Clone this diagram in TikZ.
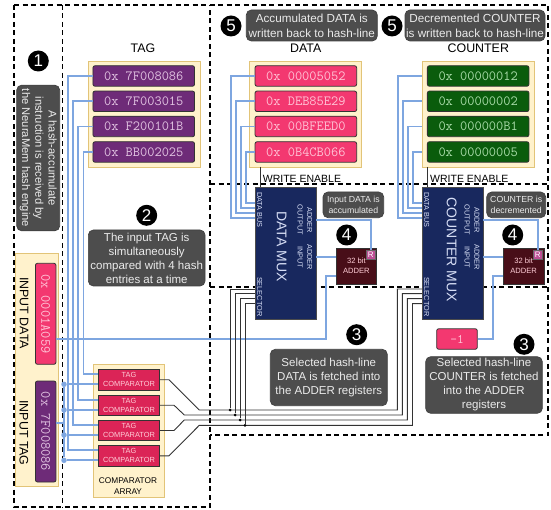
\documentclass[tikz,border=0pt]{standalone}
\usepackage{fontspec}
\setmainfont{Liberation Sans}
\usetikzlibrary{calc}
\usetikzlibrary{positioning}
\definecolor{panelfill}{RGB}{255,242,204}
\definecolor{paneledge}{RGB}{226,196,120}
\definecolor{tagfill}{RGB}{110,43,120}
\definecolor{tagtext}{RGB}{226,196,226}
\definecolor{datafill}{RGB}{243,56,112}
\definecolor{datatext}{RGB}{255,196,214}
\definecolor{countfill}{RGB}{10,92,12}
\definecolor{counttext}{RGB}{170,220,170}
\definecolor{cmpfill}{RGB}{219,36,87}
\definecolor{cmptext}{RGB}{255,205,215}
\definecolor{muxfill}{RGB}{24,40,94}
\definecolor{muxtext}{RGB}{215,222,245}
\definecolor{addfill}{RGB}{72,14,24}
\definecolor{regfill}{RGB}{190,80,150}
\definecolor{bubblefill}{RGB}{77,77,77}
\definecolor{busblue}{RGB}{126,166,224}

\begin{document}
\begin{tikzpicture}[x=1pt,y=-1pt,
zone/.style={black,line width=1.2pt,dash pattern=on 5pt off 3.5pt},
panel/.style={rectangle,draw=paneledge,fill=panelfill,line width=0.9pt,inner sep=0pt,minimum height=106,minimum width=112},
reg/.style={rectangle,rounded corners=2pt,draw=black!80,line width=0.8pt,inner sep=0pt,minimum width=101.6,minimum height=20.5,font=\ttfamily\fontsize{14}{15}\selectfont},
tagreg/.style={reg,fill=tagfill,text=tagtext},
datareg/.style={reg,fill=datafill,text=datatext},
countreg/.style={reg,fill=countfill,text=counttext},
cmp/.style={rectangle,draw=black!80,fill=cmpfill,text=cmptext,line width=0.9pt,inner sep=0pt,minimum width=61.4,minimum height=20.5,align=center,font=\fontsize{7.4}{9}\selectfont},
mux/.style={rectangle,draw=black!70,fill=muxfill,text=muxtext,line width=0.7pt,inner sep=0pt,minimum width=60.5,minimum height=131.7},
muxlabel/.style={text=muxtext,inner sep=0pt,rotate=-90,align=center,font=\fontsize{7.3}{9.6}\selectfont},
muxname/.style={text=muxtext,inner sep=0pt,rotate=-90,font=\fontsize{14}{16}\selectfont},
adder/.style={rectangle,draw=black!80,fill=addfill,text=cmptext,line width=0.8pt,inner sep=0pt,minimum width=40.7,minimum height=36,align=center,font=\fontsize{7.6}{9.6}\selectfont},
rbox/.style={rectangle,draw=black!60,fill=regfill,text=white,inner sep=0pt,minimum size=9,font=\fontsize{8}{9}\selectfont},
bubble/.style={rectangle,rounded corners=5pt,draw=black!75,fill=bubblefill,text=white!92!black,line width=0.7pt,inner sep=0pt,align=center,font=\fontsize{11.5}{14}\selectfont},
bubblebig/.style={bubble,font=\fontsize{11.7}{15}\selectfont},
bubblesmall/.style={bubble,font=\fontsize{8.75}{11}\selectfont},
step number/.style={circle,fill=black,text=white,inner sep=0pt,minimum size=21,font=\fontsize{17}{18}\selectfont},
title/.style={inner sep=0pt,font=\fontsize{12.4}{15}\selectfont},
busline/.style={busblue,line width=1.7pt},
selline/.style={black!80,line width=0.9pt},
busdot/.style={circle,fill=busblue,inner sep=0pt,minimum size=5.5},
seldot/.style={circle,fill=black,inner sep=0pt,minimum size=3}]

\useasboundingbox (0,0) rectangle (551,510);

\draw[zone] (14,5) -- (548,5) -- (548,435) -- (210,435);
\draw[zone] (14,5) -- (14,507) -- (210,507) -- (210,5);
\draw[zone] (62.5,5) -- (62.5,507);
\draw[zone] (210,184) -- (548,184);
\draw[zone] (210,287) -- (548,287);

\node[panel] (tagpanel) at (144,114) {};
\node[panel] (datapanel) at (305.7,114) {};
\node[panel] (countpanel) at (478.3,114) {};
\node[panel,minimum width=43.4,minimum height=232.6] (inputpanel) at (37,370) {};
\node[panel,minimum width=70.6,minimum height=133.3] (cmppanel) at (129,430.7) {};

\node[title] (taglabel) at (143,48) {TAG};
\node[title] (datalabel) at (305.7,48) {DATA};
\node[title] (countlabel) at (478.3,48) {COUNTER};
\node[title,rotate=-90] (inputdatalabel) at (24,313) {INPUT DATA};
\node[title,rotate=-90] (inputtaglabel) at (24,433) {INPUT TAG};
\node[inner sep=0pt,align=center,font=\fontsize{8.3}{10.7}\selectfont] (cmplabel) at (128,486) {COMPARATOR\\ARRAY};

\node[tagreg] (taga) at (143.75,76) {0x 7F008086};
\node[tagreg] (tagb) at (143.75,101.3) {0x 7F003015};
\node[tagreg] (tagc) at (143.75,126.5) {0x F200101B};
\node[tagreg] (tagd) at (143.75,152) {0x BB002025};

\node[datareg] (dataa) at (305.85,76) {0x 00005052};
\node[datareg] (datab) at (305.85,101.3) {0x DEB85E29};
\node[datareg] (datac) at (305.85,126.5) {0x 00BFEED0};
\node[datareg] (datad) at (305.85,152) {0x 0B4CB066};

\node[countreg] (counta) at (478.15,76) {0x 00000012};
\node[countreg] (countb) at (478.15,101.3) {0x 00000002};
\node[countreg] (countc) at (478.15,126.5) {0x 000000B1};
\node[countreg] (countd) at (478.15,152) {0x 00000005};

\node[datareg,rotate=-90,minimum width=101] (inputdata) at (45.7,313.8) {0x 0001A059};
\node[tagreg,rotate=-90,minimum width=101] (inputtag) at (45.7,431.5) {0x 7F008086};
\node[datareg,minimum width=40.6,font=\ttfamily\fontsize{13}{14}\selectfont] (minusone) at (457,339) {-1};

\node[cmp] (cmpa) at (129,379.7) {TAG\\COMPARATOR};
\node[cmp] (cmpb) at (129,405.2) {TAG\\COMPARATOR};
\node[cmp] (cmpc) at (129,430.5) {TAG\\COMPARATOR};
\node[cmp] (cmpd) at (129,455.8) {TAG\\COMPARATOR};

\node[mux] (datamux) at (285.85,253.2) {};
\node[mux] (countmux) at (452.8,253.2) {};
\node[muxname] (datamuxname) at (281.7,246.7) {DATA MUX};
\node[muxname] (countmuxname) at (451.7,250) {COUNTER MUX};
\node[muxlabel] (databus) at (259.6,210) {DATA BUS};
\node[muxlabel] (dataselect) at (259.6,296.7) {SELECTOR};
\node[muxlabel] (dataout) at (304.8,220) {ADDER\\OUTPUT};
\node[muxlabel] (datain) at (304.8,257) {ADDER\\INPUT};
\node[muxlabel] (countbus) at (426.7,210) {DATA BUS};
\node[muxlabel] (countselect) at (426.7,296.7) {SELECTOR};
\node[muxlabel] (countout) at (472,220) {ADDER\\OUTPUT};
\node[muxlabel] (countin) at (472,257) {ADDER\\INPUT};

\node[adder] (dataadder) at (356.35,266) {32 bit\\ADDER};
\node[adder] (countadder) at (523.65,266) {32 bit\\ADDER};
\node[rbox] (datar) at (370.8,254.5) {R};
\node[rbox] (countr) at (537.65,254.5) {R};

\node[inner sep=0pt,font=\fontsize{10.5}{12}\selectfont] (datawrite) at (302,178.5) {WRITE ENABLE};
\node[inner sep=0pt,font=\fontsize{10.5}{12}\selectfont] (countwrite) at (469.3,178.5) {WRITE ENABLE};

\node[bubble,rotate=-90,minimum width=145.7,minimum height=43,font=\fontsize{11.2}{13.3}\selectfont] (bubbleone) at (38.2,158) {A hash-accumulate\\instruction is received by\\the NeuraMem hash engine};
\node[bubble,minimum width=116.7,minimum height=56] (bubbletwo) at (146.7,258) {The input TAG is\\simultaneously\\compared with 4 hash\\entries at a time};
\node[bubble,minimum width=117,minimum height=56.4] (bubbledata) at (328.8,377.5) {Selected hash-line\\DATA is fetched into\\the ADDER registers};
\node[bubble,minimum width=116.6,minimum height=56.6] (bubblecount) at (484,385) {Selected hash-line\\COUNTER is fetched\\into the ADDER\\registers};
\node[bubblesmall,minimum width=60.7,minimum height=25.7] (bubbleacc) at (353.35,204.85) {Input DATA is\\accumulated};
\node[bubblesmall,minimum width=59,minimum height=25.7] (bubbledec) at (516.2,204.85) {COUNTER is\\decremented};
\node[bubblebig,minimum width=131,minimum height=31] (bubbleback) at (311.8,25.5) {Accumulated DATA is\\written back to hash-line};
\node[bubblebig,minimum width=140,minimum height=31] (bubblewrite) at (475,25.5) {Decremented COUNTER\\is written back to hash-line};

\node[step number] (stepone) at (38.3,61) {1};
\node[step number] (steptwo) at (146.7,215.3) {2};
\node[step number] (stepthree) at (356.7,334.7) {3};
\node[step number] (stepthreeb) at (524,344.3) {3};
\node[step number] (stepfour) at (346.7,235) {4};
\node[step number] (stepfourb) at (512.7,235) {4};
\node[step number] (stepfive) at (231,26) {5};
\node[step number] (stepfiveb) at (392,26) {5};

\draw[busline] (taga.west) -- ++(-24.3,0) |- (cmpd.west |- 0,450.3);
\draw[busline] (tagb.west) -- ++(-19.3,0) |- (cmpc.west |- 0,425);
\draw[busline] (tagc.west) -- ++(-14.3,0) |- (cmpb.west |- 0,399.7);
\draw[busline] (tagd.west) -- ++(-9,0) |- (cmpa.west |- 0,374.3);

\draw[busline] (dataa.west) -- ++(-24,0) |- (datamux.west |- 0,218);
\draw[busline] (datab.west) -- ++(-19,0) |- (datamux.west |- 0,212.7);
\draw[busline] (datac.west) -- ++(-14,0) |- (datamux.west |- 0,208);
\draw[busline] (datad.west) -- ++(-9,0) |- (datamux.west |- 0,202.7);

\draw[busline] (countpanel.west |- counta) -- (397.7,76) |- (countmux.west |- 0,218);
\draw[busline] (countpanel.west |- countb) -- (402.7,101.3) |- (countmux.west |- 0,212.7);
\draw[busline] (countpanel.west |- countc) -- (407.7,126.5) |- (countmux.west |- 0,208);
\draw[busline] (countpanel.west |- countd) -- (413.3,152) |- (countmux.west |- 0,202.7);

\node[busdot] (tapa) at (64,384.3) {};
\node[busdot] (tapb) at (64,410) {};
\node[busdot] (tapc) at (64,435) {};
\node[busdot] (tapd) at (64,460.3) {};
\coordinate (tagout) at (55.7,422.7);
\coordinate (dataout) at (55.7,339);
\draw[busline] (tapa) -- (tapd);
\draw[busline] (tagout) -- (tagout -| tapa);
\draw[busline] (tapa) -- (cmpa.west |- tapa);
\draw[busline] (tapb) -- (cmpb.west |- tapb);
\draw[busline] (tapc) -- (cmpc.west |- tapc);
\draw[busline] (tapd) -- (cmpd.west |- tapd);

\draw[busline] (dataout) -| (326,276) -- (dataadder.west |- 0,276);
\draw[busline] (minusone.east) -| (493.3,276) -- (countadder.west |- 0,276);
\draw[busline] (datamux.east |- 0,220) -| (datar.north);
\draw[busline] (countmux.east |- 0,220) -| (countr.north);
\draw[busline] (datamux.east |- 0,257) -- (dataadder.west |- 0,257);
\draw[busline] (countmux.east |- 0,257) -- (countadder.west |- 0,257);

\draw[selline] (260,167) -- (260,187.3);
\draw[selline] (427,167) -- (427,187.3);

\draw[selline] (cmpa.east) -- (169,379.7) -- (199.3,410) -- (397.3,410) |- (countmux.west |- 0,289);
\draw[selline] (cmpb.east) -- (174,405.2) -- (184.3,415) -- (402.3,415) |- (countmux.west |- 0,293.7);
\draw[selline] (cmpc.east) -- (174,430.5) -- (184.3,420) -- (407.3,420) |- (countmux.west |- 0,298.7);
\draw[selline] (cmpd.east) -- (169,455.8) -- (199.3,425.3) -- (412.5,425.3) |- (countmux.west |- 0,303.7);

\node[seldot] (joina) at (230,410) {};
\node[seldot] (joinb) at (235,415) {};
\node[seldot] (joinc) at (240,420) {};
\node[seldot] (joind) at (245,425.3) {};
\draw[selline] (joina) |- (datamux.west |- 0,289);
\draw[selline] (joinb) |- (datamux.west |- 0,293.7);
\draw[selline] (joinc) |- (datamux.west |- 0,298.7);
\draw[selline] (joind) |- (datamux.west |- 0,303.7);
\end{tikzpicture}
\end{document}
